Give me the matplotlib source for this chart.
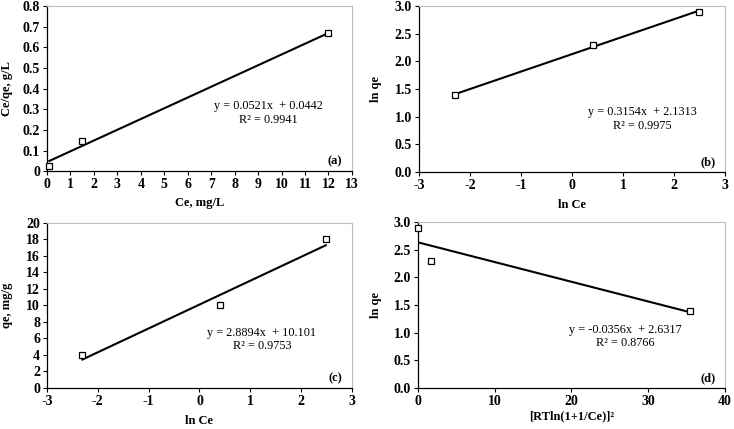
import matplotlib
matplotlib.use('Agg')
import matplotlib.pyplot as plt

plt.rcParams['font.family'] = ['Liberation Serif', 'DejaVu Serif']
plt.rcParams['font.size'] = 10
plt.rcParams['axes.unicode_minus'] = False

# data (one entry per Ce level)
ce = [0.1, 1.5, 12.0]
ce_qe = [0.025, 0.148, 0.667]
ln_ce = [-2.303, 0.405, 2.485]
ln_qe = [1.386, 2.303, 2.890]
qe = [4.0, 10.0, 18.0]
rt_term = [35.4, 1.65, 0.05]

# trendline equations as printed
fits = {
    'a': (0.0521, 0.0442, 0.9941),
    'b': (0.3154, 2.1313, 0.9975),
    'c': (2.8894, 10.101, 0.9753),
    'd': (-0.0356, 2.6317, 0.8766),
}

fig = plt.figure(figsize=(7.34, 4.29), dpi=100)

panels = [
    # key, x, y, rect, xlim, xticks, ylim, yticks, yfmt, xlabel, ylabel, eq pos, ylab x, xlab y
    ('a', ce, ce_qe, [0.064, 0.601, 0.4155, 0.385], (0, 13), range(0, 14),
     (0, 0.8), [i / 10 for i in range(9)], '{:g}', 'Ce, mg/L', 'Ce/qe, g/L',
     (0.725, 0.392, 0.31), -0.111, -0.158),
    ('b', ln_ce, ln_qe, [0.571, 0.599, 0.417, 0.387], (-3, 3), range(-3, 4),
     (0, 3.0), [i / 2 for i in range(7)], '{:.1f}', 'ln Ce', 'ln qe',
     (0.73, 0.362, 0.28), -0.121, -0.163),
    ('c', ln_ce, qe, [0.064, 0.0956, 0.4155, 0.385], (-3, 3), range(-3, 4),
     (0, 20), range(0, 21, 2), '{:g}', 'ln Ce', 'qe, mg/g',
     (0.705, 0.335, 0.253), -0.111, -0.164),
    ('d', rt_term, ln_qe, [0.5695, 0.0956, 0.418, 0.387], (0, 40), range(0, 41, 10),
     (0, 3.0), [i / 2 for i in range(7)], '{:.1f}', '[RTln(1+1/Ce)]²', 'ln qe',
     (0.675, 0.352, 0.27), -0.117, -0.133),
]

for key, xs, ys, rect, xlim, xt, ylim, yt, yfmt, xl, yl, eqpos, ylx, xly in panels:
    ax = fig.add_axes(rect)
    m, b, r2 = fits[key]
    x0, x1 = min(xs), max(xs)
    ax.plot([x0, x1], [m * x0 + b, m * x1 + b], color='black', lw=1.5, zorder=2)
    ax.plot(xs, ys, ls='none', marker='s', ms=4.2, mfc='white', mec='black',
            mew=0.9, zorder=3, clip_on=False)
    ax.set_xlim(xlim)
    ax.set_ylim(ylim)
    ax.set_xticks(list(xt))
    ax.set_xticklabels([str(v) for v in xt])
    ax.set_yticks(list(yt))
    ax.set_yticklabels([yfmt.format(v) for v in yt])
    ax.tick_params(direction='out', length=3, width=0.8, labelsize=10, pad=2)
    for lab in ax.get_xticklabels() + ax.get_yticklabels():
        lab.set_fontweight('bold')
    for s in ['top', 'right']:
        ax.spines[s].set_color('#bfbfbf')
        ax.spines[s].set_linewidth(0.8)
    for s in ['left', 'bottom']:
        ax.spines[s].set_color('black')
        ax.spines[s].set_linewidth(0.9)
    ax.set_xlabel(xl, fontweight='bold', fontsize=9)
    ax.set_ylabel(yl, fontweight='bold', fontsize=9)
    ax.xaxis.set_label_coords(0.5, xly)
    ax.yaxis.set_label_coords(ylx, 0.5)
    sign = '-' if m < 0 else ''
    ax.text(eqpos[0], eqpos[1], 'y = {}{:.4f}x  + {:g}'.format(sign, abs(m), b),
            transform=ax.transAxes, ha='center', va='center', fontsize=8.8)
    ax.text(eqpos[0], eqpos[2], 'R² = {:.4f}'.format(r2),
            transform=ax.transAxes, ha='center', va='center', fontsize=8.8)
    ax.text(0.945, 0.06, '({})'.format(key), transform=ax.transAxes,
            ha='center', va='center', fontsize=9, fontweight='bold')

fig.savefig('out.png', dpi=100)
